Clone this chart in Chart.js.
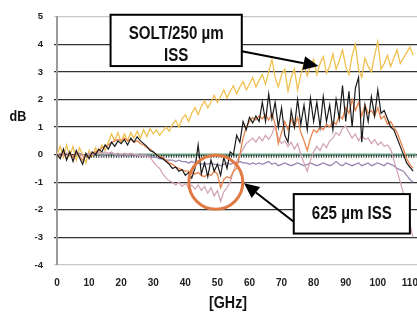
<!DOCTYPE html>
<html><head><meta charset="utf-8">
<script src="https://cdn.jsdelivr.net/npm/chart.js@4/dist/chart.umd.min.js"></script>
<style>html,body{margin:0;padding:0;overflow:hidden;background:#fff}canvas{display:block}</style>
</head><body>
<canvas id="c" width="430" height="314"></canvas>
<script>
// Frequency axis (GHz), one sample per GHz
const ghz = Array.from({length:112}, (_, i) => i);
const xTicks = [0,10,20,30,40,50,60,70,80,90,100,110];
const yTicks = [5,4,3,2,1,0,-1,-2,-3,-4];

// SOLT / 250 um ISS (yellow)
const solt = [0.0,0.3,-0.1,0.35,-0.05,0.3,-0.2,0.25,0.0,-0.3,0.15,-0.05,0.25,0.05,0.35,0.15,0.45,0.75,0.5,0.8,
0.45,0.75,0.5,0.8,0.6,0.85,0.6,0.9,0.65,0.95,0.75,0.9,0.7,0.85,1.0,0.85,1.1,1.25,1.0,1.3,
1.45,1.2,1.5,1.7,1.45,1.75,1.95,1.7,1.9,2.15,1.9,2.1,2.35,2.05,2.3,2.5,2.2,2.45,2.65,2.35,
2.55,2.8,2.45,2.7,2.9,2.55,3.0,3.45,2.8,2.45,2.9,3.1,2.3,2.8,3.1,2.35,2.9,3.3,2.85,3.2,
3.45,2.9,3.3,3.55,2.95,3.2,3.65,3.1,3.4,3.8,3.2,2.9,3.6,4.0,3.1,2.8,3.5,3.2,3.0,3.6,
4.1,3.1,3.3,3.6,3.2,3.5,3.8,3.3,3.5,3.7,3.9,3.6];

// black trace
const traceBlack = [0.0,-0.15,0.2,-0.2,0.1,-0.25,0.15,-0.1,-0.35,0.05,-0.15,0.1,0.0,0.2,0.1,0.35,0.2,0.45,0.3,0.5,
0.4,0.55,0.35,0.6,0.45,0.65,0.5,0.4,0.3,0.15,0.1,0.0,-0.1,-0.15,-0.25,-0.35,-0.5,-0.45,-0.6,-0.55,
-0.75,-0.65,-0.85,-0.5,0.35,-0.7,-0.3,-0.8,-0.2,-0.6,-0.35,-0.75,-0.1,-0.5,0.1,0.0,0.7,0.45,1.2,0.9,
1.35,1.15,1.4,1.2,1.9,1.2,2.2,1.3,1.9,1.0,1.7,0.7,0.45,1.6,1.0,2.0,1.1,1.8,0.9,2.05,
1.2,1.9,1.0,2.1,1.2,1.8,0.9,2.0,1.3,2.5,1.2,2.3,1.0,2.4,2.8,0.45,1.8,1.2,2.1,1.4,
2.35,1.5,1.6,1.3,1.0,0.9,0.6,0.3,0.0,-0.3,-0.45,-0.6];

// orange trace
const traceOrange = [0.0,-0.1,0.1,-0.15,0.05,-0.1,0.1,-0.05,-0.2,0.0,-0.1,0.05,0.1,0.15,0.25,0.3,0.35,0.45,0.5,0.55,
0.5,0.6,0.5,0.55,0.45,0.5,0.4,0.35,0.25,0.2,0.1,0.0,-0.05,-0.1,-0.2,-0.3,-0.35,-0.45,-0.5,-0.55,
-0.6,-0.6,-0.65,-0.7,-0.65,-0.75,-0.8,-0.7,-0.75,-0.6,-0.7,-1.2,-0.9,-0.8,-0.85,-0.6,-0.5,0.0,0.6,1.0,
1.2,1.35,1.25,1.4,1.3,1.45,1.25,1.5,1.1,0.4,0.8,1.2,0.9,1.3,1.0,1.35,0.8,0.5,0.15,0.6,
0.9,0.8,1.0,0.9,1.1,1.0,1.2,1.1,1.4,1.3,1.7,1.5,2.0,1.6,1.9,1.4,1.8,1.5,1.6,1.4,
1.7,1.3,1.4,1.1,1.2,1.0,0.8,0.5,0.2,-0.15,-0.35,-0.5];

// 625 um ISS (pink trace)
const iss625 = [0.0,0.05,-0.05,0.05,0.0,-0.05,0.05,0.0,-0.05,0.0,0.05,0.0,0.05,0.1,0.05,0.1,0.05,0.1,0.0,0.05,
0.0,0.05,0.0,0.05,0.0,0.0,-0.05,0.0,-0.05,-0.1,-0.25,-0.4,-0.5,-0.7,-0.85,-0.95,-1.0,-1.1,-1.0,-1.15,
-1.05,-1.2,-1.1,-1.25,-1.1,-1.3,-1.15,-1.4,-1.2,-1.5,-1.3,-1.7,-1.35,-1.2,-1.0,-0.6,-0.25,0.0,0.2,0.4,
0.5,0.6,0.45,0.65,0.5,0.7,0.55,0.75,1.05,0.6,0.4,0.5,0.3,0.45,0.2,0.4,0.0,-0.3,-0.6,-0.2,
0.1,0.3,0.15,0.4,0.25,0.5,0.6,0.8,0.7,0.95,1.05,0.8,0.6,0.75,0.5,0.7,0.55,0.6,0.4,0.55,
0.35,0.45,0.3,0.35,0.2,-0.2,-0.6,-1.0,-1.4,-1.9,-2.5,-3.0];

// purple trace
const tracePurple = [0.0,-0.05,0.0,0.05,0.0,-0.05,0.0,0.05,0.0,-0.05,0.0,0.0,0.05,0.0,-0.05,0.0,0.0,0.05,0.0,-0.05,
0.0,0.0,-0.05,0.0,0.0,-0.05,0.0,-0.05,0.0,-0.05,-0.1,-0.1,-0.15,-0.15,-0.2,-0.2,-0.2,-0.25,-0.2,-0.25,
-0.25,-0.3,-0.25,-0.3,-0.3,-0.35,-0.3,-0.35,-0.3,-0.35,-0.35,-0.4,-0.35,-0.3,-0.35,-0.3,-0.3,-0.25,-0.3,-0.3,
-0.35,-0.3,-0.35,-0.3,-0.35,-0.3,-0.25,-0.35,-0.3,-0.4,-0.35,-0.3,-0.35,-0.4,-0.35,-0.3,-0.35,-0.4,-0.35,-0.3,
-0.35,-0.4,-0.35,-0.3,-0.35,-0.4,-0.35,-0.25,-0.35,-0.4,-0.3,-0.35,-0.4,-0.35,-0.3,-0.4,-0.35,-0.3,-0.4,-0.35,
-0.3,-0.35,-0.4,-0.3,-0.35,-0.4,-0.5,-0.55,-0.6,-0.75,-0.9,-1.0];

// 0 dB reference line (teal) and its dotted overlay
const refX = [9, 112];
const refY = [0, 0];
const refDotsY = [-0.06, -0.06];

const pts = (xs, ys) => xs.map((x, i) => ({x, y: ys[i]}));
const FONT = "'Liberation Sans',Arial,sans-serif";
const SQ = 0.84; // horizontal condensing of the narrow face

const ds = (label, ys, color, w) => ({label, data: pts(ghz, ys), borderColor: color, borderWidth: w,
  pointRadius: 0, tension: 0, fill: false});

function narrowText(c, txt, x, y) {
  c.save(); c.translate(x, y); c.scale(SQ, 1); c.fillText(txt, 0, 0); c.restore();
}

const annot = {
  id: 'annot',
  afterDraw(chart) {
    const c = chart.ctx, X = chart.scales.x, Y = chart.scales.y;
    const px = v => X.getPixelForValue(v), py = v => Y.getPixelForValue(v);
    c.save();
    c.beginPath();
    c.arc(px(49.5), py(-1.0), 27, 0, Math.PI * 2);
    c.strokeStyle = '#e07a44'; c.lineWidth = 3; c.stroke();

    function arrow(x1, y1, x2, y2) {
      const a = Math.atan2(y2 - y1, x2 - x1), L = 15, H = 7;
      c.beginPath(); c.moveTo(x1, y1); c.lineTo(x2 - L * Math.cos(a), y2 - L * Math.sin(a));
      c.strokeStyle = '#000'; c.lineWidth = 2; c.stroke();
      c.beginPath(); c.moveTo(x2, y2);
      c.lineTo(x2 - L * Math.cos(a) + H * Math.sin(a), y2 - L * Math.sin(a) - H * Math.cos(a));
      c.lineTo(x2 - L * Math.cos(a) - H * Math.sin(a), y2 - L * Math.sin(a) + H * Math.cos(a));
      c.closePath(); c.fillStyle = '#000'; c.fill();
    }
    function box(x1, y1, x2, y2, lines) {
      const l = px(x1), r = px(x2), t = py(y1), b = py(y2);
      c.fillStyle = '#fff'; c.fillRect(l, t, r - l, b - t);
      c.strokeStyle = '#000'; c.lineWidth = 2; c.strokeRect(l, t, r - l, b - t);
      c.fillStyle = '#111'; c.font = 'bold 18px ' + FONT; c.textAlign = 'center'; c.textBaseline = 'middle';
      lines.forEach(([txt, dy]) => narrowText(c, txt, (l + r) / 2, t + dy));
    }
    arrow(px(57.6), py(3.75), px(81.5), py(3.21));
    box(16.7, 5.07, 57.6, 3.21, [['SOLT/250 µm', 19], ['ISS', 41]]);
    arrow(px(73.8), py(-2.43), px(58.3), py(-1.04));
    box(73.8, -1.43, 110.0, -2.86, [['625 µm ISS', 19.5]]);

    c.fillStyle = '#111'; c.textAlign = 'center'; c.textBaseline = 'middle';
    c.font = 'bold 15px ' + FONT; narrowText(c, 'dB', 18, 117);
    c.font = 'bold 17px ' + FONT; narrowText(c, '[GHz]', 228, 303);
    c.restore();
  }
};

new Chart(document.getElementById('c'), {
  type: 'line',
  data: {
    datasets: [
      ds('black', traceBlack, '#1a1a1a', 1.2),
      ds('orange', traceOrange, '#e8844e', 1.3),
      ds('625 µm ISS', iss625, '#d2a2b4', 1.2),
      ds('SOLT/250 µm ISS', solt, '#f0c050', 1.3),
      ds('purple', tracePurple, '#9a88b2', 1.3),
      {label: 'dots', data: pts(refX, refDotsY), borderColor: '#222', borderWidth: 3, borderDash: [1, 1.5], pointRadius: 0},
      {label: 'ref', data: pts(refX, refY), borderColor: '#6fa88e', borderWidth: 2.5, pointRadius: 0}
    ]
  },
  options: {
    responsive: false, animation: false, devicePixelRatio: 1,
    layout: {padding: {left: 0, top: 13, right: 2, bottom: 0}},
    plugins: {legend: {display: false}, tooltip: {enabled: false}},
    scales: {
      x: {
        type: 'linear', min: 0, max: 113,
        afterBuildTicks: s => { s.ticks = xTicks.map(v => ({value: v})); },
        afterFit: s => { s.height = 49; },
        grid: {display: false, drawTicks: false}, border: {display: false},
        ticks: {padding: 12, color: '#222', font: {family: FONT, weight: 'bold', size: 10}, autoSkip: false, maxRotation: 0}
      },
      y: {
        min: -4, max: 5,
        afterBuildTicks: s => { s.ticks = yTicks.map(v => ({value: v})); },
        afterFit: s => { s.width = 57; },
        grid: {
          color: c => (c.tick && (c.tick.value === 5 || c.tick.value === -4)) ? '#c8c8c8' : '#333',
          lineWidth: 1.2, tickLength: 3
        },
        border: {color: '#9a9a9a', width: 2},
        ticks: {padding: 11, color: '#222', font: {family: FONT, weight: 'bold', size: 9.5}}
      }
    }
  },
  plugins: [annot]
});
</script>
</body></html>
